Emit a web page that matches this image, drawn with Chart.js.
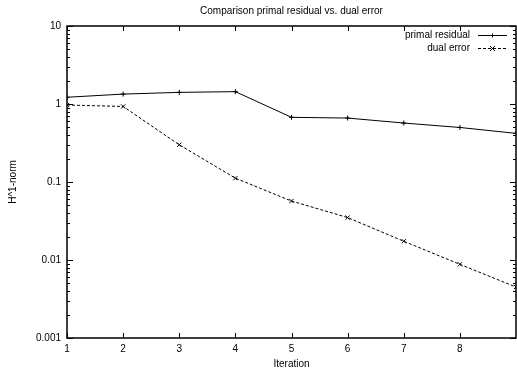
<!DOCTYPE html>
<html>
<head>
<meta charset="utf-8">
<script src="https://cdn.jsdelivr.net/npm/chart.js@4/dist/chart.umd.min.js"></script>
<style>
  html, body { margin: 0; padding: 0; background: #fff; overflow: hidden; }
  #wrap { width: 517px; height: 374px; overflow: hidden; }
</style>
</head>
<body>
<div id="wrap"><canvas id="myChart" width="521" height="374"></canvas></div>
<script>
// values
const iterations = [1, 2, 3, 4, 5, 6, 7, 8, 9];
const primalResidual = [1.22, 1.34, 1.41, 1.44, 0.675, 0.66, 0.57, 0.50, 0.42];
const dualError = [0.97, 0.93, 0.30, 0.112, 0.057, 0.035, 0.0174, 0.0088, 0.0045];
const xTickLabels = ['1', '2', '3', '4', '5', '6', '7', '8'];
const yTickValues = [0.001, 0.01, 0.1, 1, 10];
const yTickLabels = ['0.001', '0.01', '0.1', '1', '10'];

const FONT = 'Liberation Sans, Arial, Helvetica, sans-serif';

function pts(arr) {
  return iterations.map((x, i) => ({x: x, y: arr[i]}));
}

// gnuplot style box, inward ticks, titles, key
const gnuplotFrame = {
  id: 'gnuplotFrame',
  afterDraw(chart) {
    const ctx = chart.ctx;
    const a = chart.chartArea;
    const xs = chart.scales.x;
    const ys = chart.scales.y;
    ctx.save();
    ctx.strokeStyle = '#000';
    ctx.lineWidth = 1.5;
    ctx.strokeRect(a.left, a.top, a.right - a.left, a.bottom - a.top);

    ctx.lineWidth = 1;
    ctx.beginPath();
    for (let i = 1; i <= 8; i++) {
      const px = Math.round(xs.getPixelForValue(i)) + 0.5;
      ctx.moveTo(px, a.bottom); ctx.lineTo(px, a.bottom - 5);
      ctx.moveTo(px, a.top); ctx.lineTo(px, a.top + 5);
    }
    for (let d = -3; d <= 1; d++) {
      const base = Math.pow(10, d);
      const py = Math.round(ys.getPixelForValue(base)) + 0.5;
      ctx.moveTo(a.left, py); ctx.lineTo(a.left + 6, py);
      ctx.moveTo(a.right, py); ctx.lineTo(a.right - 6, py);
      if (d < 1) {
        for (let k = 2; k <= 9; k++) {
          const my = Math.round(ys.getPixelForValue(k * base)) + 0.5;
          ctx.moveTo(a.left, my); ctx.lineTo(a.left + 3, my);
          ctx.moveTo(a.right, my); ctx.lineTo(a.right - 3, my);
        }
      }
    }
    ctx.stroke();

    // titles
    ctx.fillStyle = '#000';
    ctx.font = '10px ' + FONT;
    ctx.textAlign = 'center';
    ctx.textBaseline = 'middle';
    const cx = (a.left + a.right) / 2;
    ctx.fillText('Comparison primal residual vs. dual error', cx, 11);
    ctx.fillText('Iteration', cx, 364);
    ctx.save();
    ctx.translate(13, (a.top + a.bottom) / 2);
    ctx.rotate(-Math.PI / 2);
    ctx.fillText('H^1-norm', 0, 0);
    ctx.restore();

    // key
    const rows = [
      {text: 'primal residual', dash: [], style: 'plus', y: 35},
      {text: 'dual error', dash: [3, 2], style: 'x', y: 48}
    ];
    ctx.textAlign = 'right';
    rows.forEach(r => {
      ctx.fillText(r.text, 470, r.y);
      ctx.setLineDash(r.dash);
      ctx.beginPath();
      ctx.moveTo(478, r.y + 0.5); ctx.lineTo(507, r.y + 0.5);
      ctx.stroke();
      ctx.setLineDash([]);
      ctx.beginPath();
      if (r.style === 'plus') {
        ctx.moveTo(490.5, r.y + 0.5); ctx.lineTo(494.5, r.y + 0.5);
        ctx.moveTo(492.5, r.y - 1.5); ctx.lineTo(492.5, r.y + 2.5);
      } else {
        ctx.moveTo(490, r.y - 2); ctx.lineTo(495, r.y + 3);
        ctx.moveTo(495, r.y - 2); ctx.lineTo(490, r.y + 3);
      }
      ctx.stroke();
    });
    ctx.restore();
  }
};

var ctx = document.getElementById('myChart').getContext('2d');
var myChart = new Chart(ctx, {
  type: 'scatter',
  data: {
    datasets: [{
      label: 'primal residual',
      data: pts(primalResidual),
      showLine: true,
      borderColor: '#000',
      backgroundColor: '#000',
      borderWidth: 1,
      pointStyle: 'cross',
      pointRadius: 2.5,
      pointBorderWidth: 1,
      tension: 0
    }, {
      label: 'dual error',
      data: pts(dualError),
      showLine: true,
      borderColor: '#000',
      backgroundColor: '#000',
      borderWidth: 1,
      borderDash: [3, 2],
      pointStyle: 'crossRot',
      pointRadius: 3,
      pointBorderWidth: 1,
      tension: 0
    }]
  },
  options: {
    responsive: false,
    animation: false,
    devicePixelRatio: 1,
    layout: { padding: { top: 26, right: 2, left: 0, bottom: 0 } },
    plugins: {
      legend: { display: false },
      title: { display: false },
      tooltip: { enabled: false }
    },
    scales: {
      x: {
        type: 'linear',
        min: 1,
        max: 9,
        afterBuildTicks(scale) {
          scale.ticks = xTickLabels.map(t => ({value: Number(t)}));
        },
        afterFit(scale) { scale.height = 36; },
        ticks: {
          color: '#000',
          font: { family: FONT, size: 10 },
          padding: 5,
          maxRotation: 0,
          callback: (v) => String(v)
        },
        grid: { display: false, drawTicks: false },
        border: { display: false }
      },
      y: {
        type: 'logarithmic',
        min: 0.001,
        max: 10,
        afterBuildTicks(scale) {
          scale.ticks = yTickValues.map(v => ({value: v}));
        },
        afterFit(scale) { scale.width = 67; },
        ticks: {
          color: '#000',
          font: { family: FONT, size: 10 },
          padding: 6,
          callback: (v) => yTickLabels[yTickValues.indexOf(v)]
        },
        grid: { display: false, drawTicks: false },
        border: { display: false }
      }
    }
  },
  plugins: [gnuplotFrame]
});
</script>
</body>
</html>
